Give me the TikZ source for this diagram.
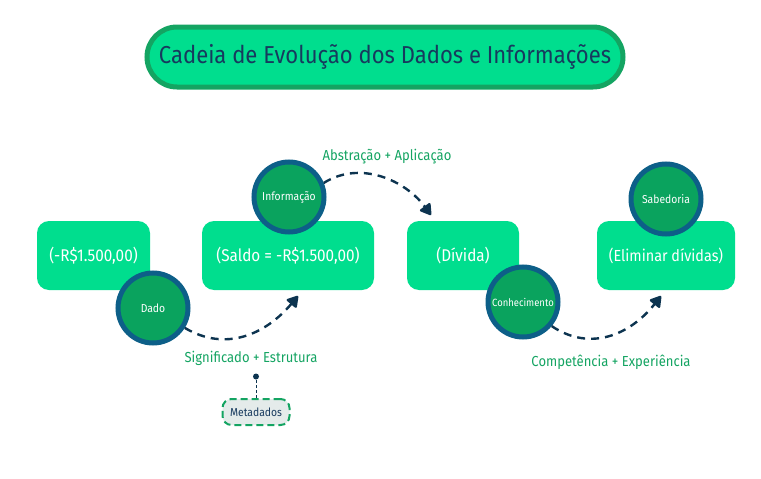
\documentclass[tikz,border=0pt]{standalone}
\usepackage{fontspec}
\setmainfont{Fira Sans}[FakeStretch=0.9]
\usetikzlibrary{calc, positioning, shapes.geometric, arrows.meta}
\definecolor{boxGreen}{HTML}{00DE8E}
\definecolor{circGreen}{HTML}{0AA35E}
\definecolor{circRing}{HTML}{0D5F88}
\definecolor{titleRing}{HTML}{14A462}
\definecolor{navyText}{HTML}{173A5E}
\definecolor{arrowNavy}{HTML}{0D3450}
\definecolor{labelGreen}{HTML}{14A462}
\definecolor{metaFill}{HTML}{E4EBEA}

\tikzset{
  stagebox/.style={fill=boxGreen, rounded corners=12pt, text=white,
    font=\fontsize{17}{19}\selectfont, minimum height=69pt, inner sep=0pt},
  stagecirc/.style={circle, fill=circGreen, draw=circRing, line width=5pt,
    minimum size=70pt, inner sep=0pt, text=white,
    font=\fontsize{11.5}{13}\selectfont},
  flow/.style={draw=arrowNavy, line width=2.4pt, dash pattern=on 8pt off 6pt,
    -{Triangle[round, length=12pt, width=14pt]}},
  steplabel/.style={text=labelGreen, font=\fontsize{14.5}{16}\selectfont}
}

\begin{document}
\begin{tikzpicture}[x=1pt, y=-1pt]
  \useasboundingbox (0,0) rectangle (761,479);

  % title
  \node[fill=boxGreen, draw=titleRing, line width=5pt, rounded corners=30pt,
        minimum width=476pt, minimum height=60pt, text=navyText,
        font=\fontsize{24.5}{28}\selectfont] (title) at (385,57)
        {Cadeia de Evolução dos Dados e Informações};

  % stage boxes
  \node[stagebox, minimum width=113pt] (valor)  at (93.5,255.5) {(-R\$1.500,00)};
  \node[stagebox, minimum width=172pt] (saldo)  at (288,255.5) {(Saldo = -R\$1.500,00)};
  \node[stagebox, minimum width=112pt] (divida) at (463,255.5) {(Dívida)};
  \node[stagebox, minimum width=138pt, font=\fontsize{16}{18}\selectfont] (elim) at (666,255.5) {(Eliminar dívidas)};

  % stage circles
  \node[stagecirc] (dado)   at (153,308) {Dado};
  \node[stagecirc] (info)   at (289,197) {Informação};
  \node[stagecirc, font=\fontsize{10.5}{12}\selectfont] (conhec) at (523,302) {Conhecimento};
  \node[stagecirc] (sabed)  at (666,199) {Sabedoria};

  % arrows
  \coordinate (tipA) at (298,296);
  \coordinate (tipB) at (431,215);
  \coordinate (tipC) at (661,296);
  \draw[flow] (dado.-32) .. controls (225,352) and (265,335) .. (tipA);
  \draw[flow] (info.22) .. controls (360,160) and (405,180) .. (tipB);
  \draw[flow] (conhec.-40) .. controls (590,352) and (630,335) .. (tipC);

  % labels
  \node[steplabel] (sigLbl) at (251,358) {Significado + Estrutura};
  \node[steplabel] (absLbl) at (387,157) {Abstração + Aplicação};
  \node[steplabel] (compLbl) at (611,362) {Competência + Experiência};

  % metadados
  \node[fill=metaFill, draw=labelGreen, line width=2pt, dash pattern=on 7pt off 4pt,
        rounded corners=9pt, minimum width=67pt, minimum height=26pt,
        text=navyText, font=\fontsize{11.5}{13}\selectfont] (meta) at (256,412) {Metadados};
  \coordinate (metaDot) at (256,376.5);
  \draw[arrowNavy, line width=1pt, dash pattern=on 3pt off 2pt] (meta.north) -- (metaDot);
  \fill[arrowNavy] (metaDot) circle (3pt);
\end{tikzpicture}
\end{document}
